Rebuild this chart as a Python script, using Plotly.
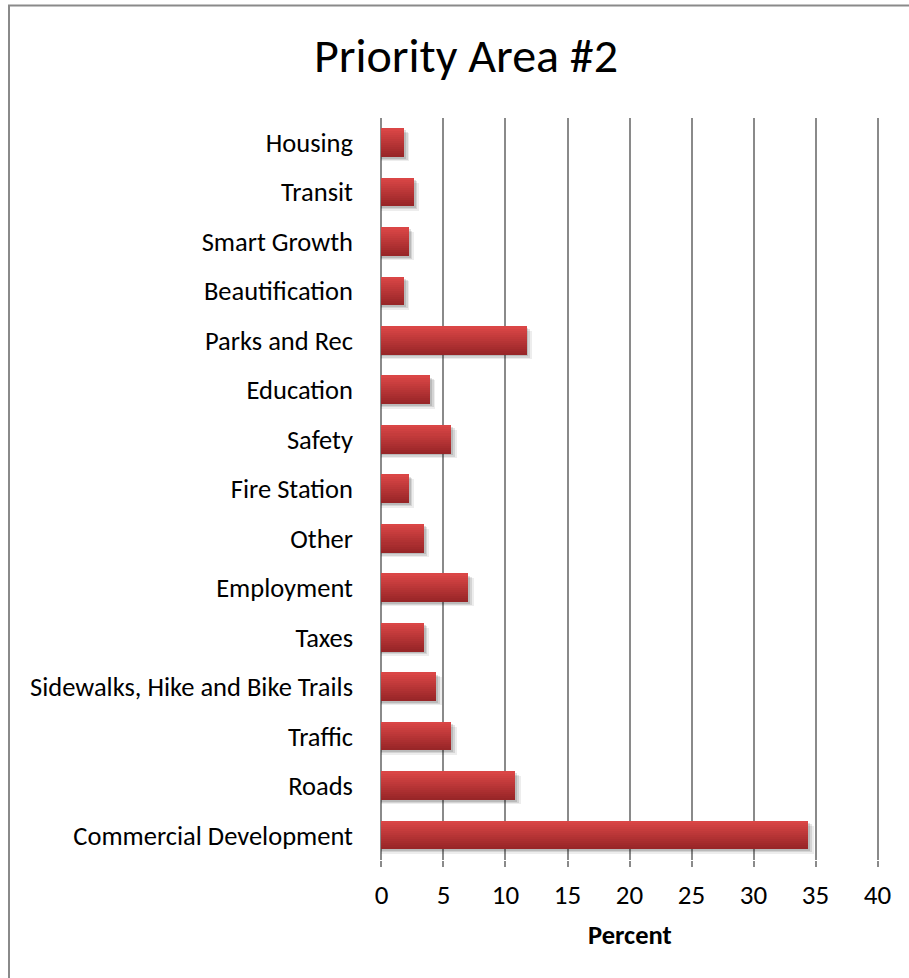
import plotly.graph_objects as go

# Survey responses for Priority Area #2 (percent), listed top to bottom
categories = [
    "Housing", "Transit", "Smart Growth", "Beautification", "Parks and Rec",
    "Education", "Safety", "Fire Station", "Other", "Employment", "Taxes",
    "Sidewalks, Hike and Bike Trails", "Traffic", "Roads", "Commercial Development",
]
percent = [1.8, 2.6, 2.2, 1.8, 11.7, 3.9, 5.6, 2.2, 3.4, 7.0, 3.4, 4.4, 5.6, 10.8, 34.4]

x_ticks = [0, 5, 10, 15, 20, 25, 30, 35, 40]

FONT = "Carlito, Calibri, Lato, sans-serif"
W, H = 909, 978
PAD = 0.12  # small range padding so the 0 and 40 grid lines are drawn
ML, MR, MT, MB = 380, 30, 118, 118

# plot bottom-up so the first category sits at the top
cats = categories[::-1]
vals = percent[::-1]

BAR_W = 0.57
fig = go.Figure()

# soft drop shadow under each bar
for alpha, dx, dy in [(0.07, 0.45, 0.09), (0.10, 0.30, 0.06), (0.12, 0.15, 0.035)]:
    fig.add_trace(go.Bar(
        y=cats, x=[v + dx for v in vals], orientation="h",
        width=BAR_W, offset=-BAR_W / 2 - dy,
        marker=dict(color=f"rgba(0,0,0,{alpha})", line=dict(width=0)),
        hoverinfo="skip", showlegend=False,
    ))

# vertical gradient: horizontal strips from dark (bottom) to light (top)
dark = (152, 38, 40)
light = (218, 70, 70)
N = 14
strip = BAR_W / N
for i in range(N):
    t = i / (N - 1)
    c = tuple(int(dark[j] + (light[j] - dark[j]) * t) for j in range(3))
    fig.add_trace(go.Bar(
        y=cats, x=vals, orientation="h",
        width=strip * 1.25, offset=-BAR_W / 2 + i * strip,
        marker=dict(color=f"rgb{c}", line=dict(width=0)),
        hoverinfo="x+y", showlegend=False,
    ))

plot_w = W - ML - MR
plot_h = H - MT - MB

fig.update_layout(
    width=W, height=H,
    margin=dict(l=ML, r=MR, t=MT, b=MB),
    paper_bgcolor="white", plot_bgcolor="white",
    barmode="overlay", bargap=0,
    font=dict(family=FONT, color="black"),
    xaxis=dict(
        range=[-PAD, 40 + PAD], tickvals=x_ticks, ticktext=[str(v) for v in x_ticks],
        showgrid=True, gridcolor="#8a8a8a", gridwidth=1.6,
        zeroline=False, showline=False,
        ticks="outside", ticklen=6, tickcolor="#8a8a8a", tickwidth=1.6,
        tickfont=dict(size=27, family=FONT), ticklabelstandoff=5,
    ),
    yaxis=dict(
        type="category", categoryorder="array", categoryarray=cats,
        showgrid=False, zeroline=False, showline=False, ticks="",
        tickfont=dict(size=26.5, family=FONT), ticklabelstandoff=26,
        range=[-0.5, len(cats) - 0.5],
    ),
    shapes=[dict(
        type="rect", xref="paper", yref="paper",
        x0=-(ML - 9) / plot_w, x1=1.2,
        y0=-0.3, y1=1 + (MT - 5.5) / plot_h,
        line=dict(color="#8a8a8a", width=2), fillcolor="rgba(0,0,0,0)", layer="below",
    )],
    annotations=[
        dict(text="Priority Area #2", xref="paper", yref="paper",
             x=(466 - ML) / plot_w, y=1 + (MT - 56) / plot_h,
             xanchor="center", yanchor="middle", showarrow=False,
             font=dict(size=48, family=FONT, color="black")),
        dict(text="<b>Percent</b>", xref="paper", yref="paper",
             x=0.5, y=-(935 - (H - MB)) / plot_h,
             xanchor="center", yanchor="middle", showarrow=False,
             font=dict(size=26.5, family=FONT, color="black")),
    ],
)

fig.write_html("out.html")
